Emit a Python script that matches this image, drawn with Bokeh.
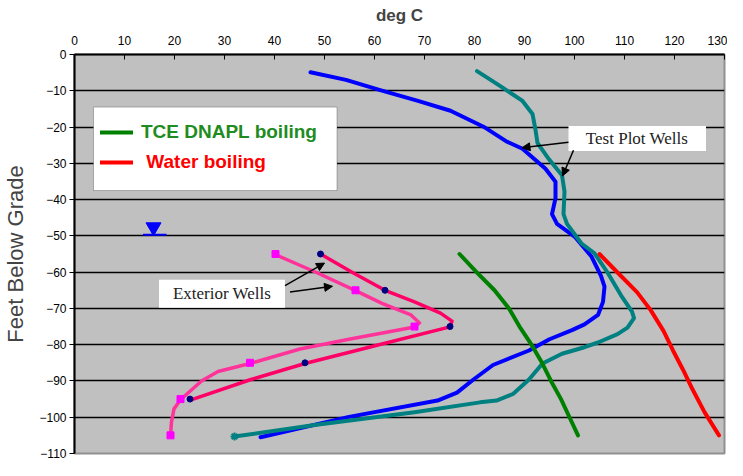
from bokeh.plotting import figure
from bokeh.models import (Range1d, FixedTicker, Legend, LegendItem, Label,
                          BoxAnnotation, Arrow, NormalHead)
from bokeh.embed import file_html
from bokeh.resources import INLINE

# ---------------- data ----------------
temp_ticks = [0, 10, 20, 30, 40, 50, 60, 70, 80, 90, 100, 110, 120, 130]
depth_ticks = [0, -10, -20, -30, -40, -50, -60, -70, -80, -90, -100, -110]
grid_depths = [-10, -20, -30, -40, -50, -60, -70, -80, -90, -100]

# Test plot well 1 (blue)
blue_depth = [-4.9, -7, -9.7, -12.8, -15.5, -19.9, -23.9, -26, -31.5, -35.1, -39.6, -44,
              -46.7, -50.3, -55.7, -61, -64, -68.2, -71.8, -74.4, -76, -78.5, -81.6,
              -85.6, -89.6, -93.2, -95.4, -99.9, -105.5]
blue_temp = [47.2, 54.3, 60.8, 68.7, 75.2, 81.8, 86.3, 89.6, 94.2, 96.2, 96.2, 95.5,
             96.5, 100.1, 103.4, 105.3, 106, 105.7, 104.7, 102, 99.5, 95, 90.9,
             83.7, 79.8, 76.5, 72.6, 54.9, 37.2]

# Test plot well 2 (teal)
teal_depth = [-4.6, -7.4, -9.2, -12.8, -16.4, -20.8, -24.4, -28.9, -33.3, -37.8, -44,
              -46.7, -52.1, -54.8, -60.1, -66.4, -70.9, -72.7, -75.3, -77.1, -79.4,
              -80.7, -82.5, -85.2, -89.6, -93.6, -95.4, -95.9, -98.6, -102.1, -105.3]
teal_temp = [80.5, 83.7, 85.7, 89.6, 91.6, 92.2, 92.6, 94.9, 97.5, 98, 97.8,
             98.5, 101.4, 104, 106.6, 109.3, 111.5, 111.9, 110.6, 108.6, 104.7,
             102, 97.5, 93.6, 90.9, 87.7, 84.4, 81.1, 68, 48.4, 32]

# TCE DNAPL boiling point curve
tce_depth = [-55, -60, -65, -70, -75, -80, -85, -90, -95, -100, -105]
tce_temp = [77, 80.4, 84, 86.9, 89, 91.4, 93.5, 95.3, 97.3, 99, 100.7]

# Water boiling point curve
water_depth = [-55, -60.1, -65.5, -70.4, -76.2, -81.6, -86.9, -92.3, -98.6, -105]
water_temp = [105, 108.6, 112.5, 115.2, 117.8, 119.7, 121.7, 123.6, 126, 128.9]

# Exterior well A (pink, square markers)
ext_a_depth = [-55.2, -60.1, -65.1, -68.6, -71.8, -74, -75.1, -78.5, -81.2, -85.2,
               -87.4, -90, -95.2, -97.7, -101.3, -105]
ext_a_temp = [40.2, 48.4, 56.2, 61.5, 67.3, 69, 68, 54.9, 45.1, 35.1,
              28.7, 25.4, 21.2, 19.9, 19.4, 19.2]
ext_a_obs_depth = [-55, -65, -75, -85, -95, -105]
ext_a_obs_temp = [40.2, 56.2, 68, 35.1, 21.2, 19.2]

# Exterior well B (deep pink, dot markers)
ext_b_depth = [-55, -60.1, -65, -68.2, -71.3, -73.5, -75.1, -79.8, -85.2, -89.6, -95.2]
ext_b_temp = [49.2, 55.6, 62.1, 68, 73.2, 75.5, 75.1, 61.5, 46.1, 35.3, 23.3]
ext_b_obs_depth = [-55, -65, -75, -85, -95]
ext_b_obs_temp = [49.2, 62.1, 75.1, 46.1, 23.1]

# water table symbol
water_table_depth = -49.7
water_table_x = [13.7, 18.4]
water_table_marker = (15.8, -47.6)

# ---------------- figure ----------------
p = figure(width=727, height=460, output_backend="svg", toolbar_location=None,
           x_range=Range1d(0, 130), y_range=Range1d(-110, 0), x_axis_location="above",
           min_border_left=70, min_border_right=3, min_border_top=54, min_border_bottom=7,
           background_fill_color="#C0C0C0", border_fill_color="white",
           outline_line_color="#909090", outline_line_width=2)

xa = p.xaxis[0]
xa.ticker = FixedTicker(ticks=temp_ticks)
xa.axis_label = "deg C"
xa.axis_label_text_font = "Liberation Sans"
xa.axis_label_text_font_style = "bold"
xa.axis_label_text_font_size = "17px"
xa.axis_label_standoff = 8
xa.major_label_standoff = 10
xa.major_tick_in = 5
xa.major_tick_out = 0
xa.minor_tick_in = 0
xa.minor_tick_out = 0
xa.axis_line_width = 2
xa.axis_line_color = "black"
xa.major_tick_line_color = "black"
xa.major_label_text_font = "Liberation Sans"
xa.major_label_text_font_size = "12px"
xa.major_label_text_color = "black"

ya = p.yaxis[0]
ya.ticker = FixedTicker(ticks=depth_ticks)
ya.axis_label = "Feet Below Grade"
ya.axis_label_text_font = "Liberation Sans"
ya.axis_label_text_font_style = "normal"
ya.axis_label_text_font_size = "22px"
ya.axis_label_standoff = 8
ya.major_label_standoff = 3
ya.major_tick_in = 0
ya.major_tick_out = 5
ya.minor_tick_in = 0
ya.minor_tick_out = 0
ya.axis_line_width = 2
ya.axis_line_color = "black"
ya.major_tick_line_color = "black"
ya.major_label_text_font = "Liberation Sans"
ya.major_label_text_font_size = "12px"
ya.major_label_text_color = "black"

p.xgrid.visible = False
p.ygrid.ticker = FixedTicker(ticks=grid_depths)
p.ygrid.grid_line_color = "black"
p.ygrid.grid_line_width = 1.5

# ---------------- series ----------------
lw = 4
p.line(blue_temp, blue_depth, line_color="#0000FF", line_width=lw,
       line_join="round", line_cap="round")
p.line(teal_temp, teal_depth, line_color="#008080", line_width=lw,
       line_join="round", line_cap="round")
p.scatter(teal_temp[-1:], teal_depth[-1:], marker="asterisk", size=8,
          line_color="#008080", line_width=2)
r_tce = p.line(tce_temp, tce_depth, line_color="#008000", line_width=lw,
               line_join="round", line_cap="round")
r_water = p.line(water_temp, water_depth, line_color="#FF0000", line_width=lw,
                 line_join="round", line_cap="round")
p.line(ext_a_temp, ext_a_depth, line_color="#FF3399", line_width=3.5,
       line_join="round", line_cap="round")
p.scatter(ext_a_obs_temp, ext_a_obs_depth, marker="square", size=7,
          fill_color="#FF00FF", line_color="#FF00FF")
p.line(ext_b_temp, ext_b_depth, line_color="#FF0066", line_width=3.5,
       line_join="round", line_cap="round")
p.scatter(ext_b_obs_temp, ext_b_obs_depth, marker="circle", size=6,
          fill_color="#000080", line_color="#000080")

# water table symbol
p.scatter([water_table_marker[0]], [water_table_marker[1]], marker="inverted_triangle",
          size=15, fill_color="#0000FF", line_color="#0000FF")
p.segment(x0=[water_table_x[0]], y0=[water_table_depth], x1=[water_table_x[1]],
          y1=[water_table_depth], line_color="#0000FF", line_width=2)

# ---------------- annotations ----------------
p.add_layout(BoxAnnotation(left=3.8, right=52.5, top=-14.5, bottom=-37.5,
                           fill_color="white", fill_alpha=1, line_color="#202020",
                           line_width=1))
p.add_layout(BoxAnnotation(left=16.9, right=42.1, top=-62.1, bottom=-69.8,
                           fill_color="white", fill_alpha=1, line_color=None))
p.add_layout(BoxAnnotation(left=98.8, right=126.3, top=-19.7, bottom=-26.6,
                           fill_color="white", fill_alpha=1, line_color=None))

p.add_layout(Label(x=29.5, y=-66, text="Exterior Wells", text_align="center",
                   text_baseline="middle", text_font="Liberation Serif",
                   text_font_size="17px", text_color="#222222"))
p.add_layout(Label(x=112.5, y=-23.2, text="Test Plot Wells", text_align="center",
                   text_baseline="middle", text_font="Liberation Serif",
                   text_font_size="17px", text_color="#222222"))

arrows = [((42.1, -63.7), (50.0, -57.5)),
          ((43.1, -65.5), (51.6, -63.9)),
          ((98.8, -24.2), (89.5, -25.7)),
          ((99.8, -26.4), (97.6, -33.5))]
for (sx, sy), (ex, ey) in arrows:
    p.add_layout(Arrow(x_start=sx, y_start=sy, x_end=ex, y_end=ey,
                       line_color="black", line_width=1.5,
                       end=NormalHead(size=8, fill_color="black", line_color="black")))


def make_legend(label, renderer, color, loc):
    return Legend(items=[LegendItem(label=label, renderers=[renderer])],
                  location=loc, padding=0, margin=0, spacing=0,
                  glyph_width=33, glyph_height=22, label_height=22, label_standoff=8,
                  label_text_font="Liberation Sans", label_text_font_style="bold",
                  label_text_font_size="19px", label_text_color=color,
                  border_line_color=None, background_fill_alpha=0)


p.add_layout(make_legend("TCE DNAPL boiling", r_tce, "#1E8C1E", (26, 310)))
p.add_layout(make_legend(" Water boiling", r_water, "#FF0000", (26, 280)))

open("out.html", "w").write(file_html(p, INLINE))
